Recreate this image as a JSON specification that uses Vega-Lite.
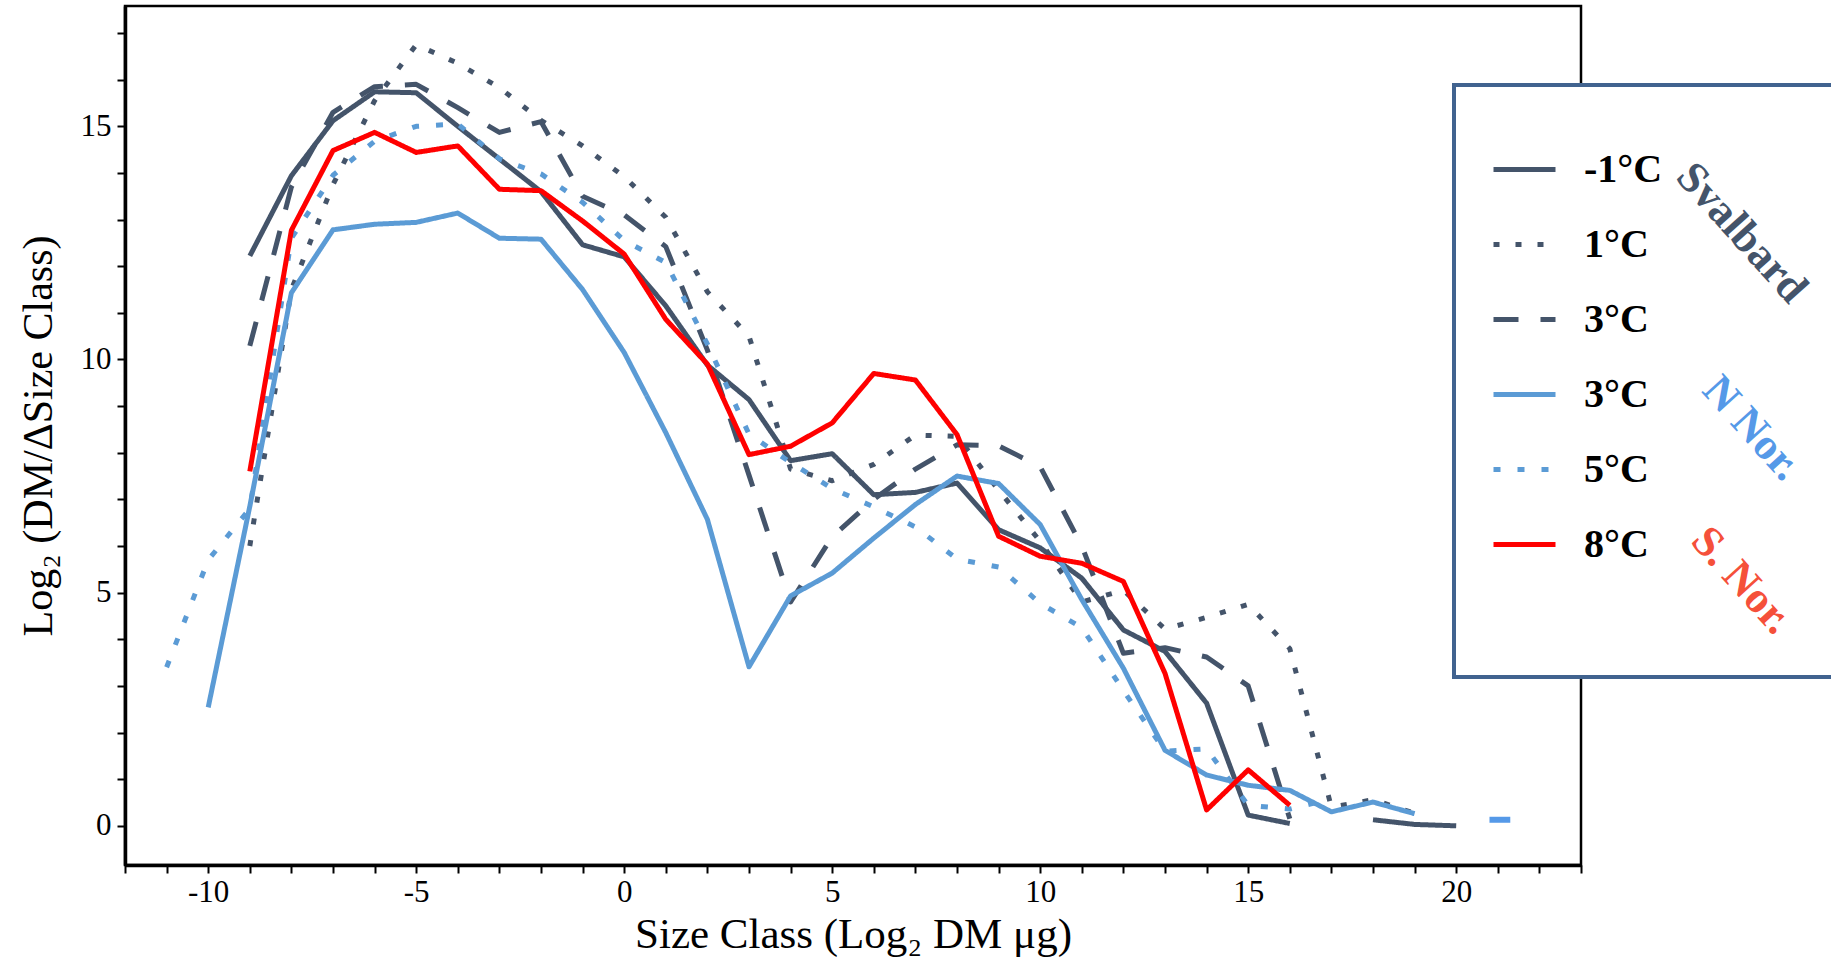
{
  "$schema": "https://vega.github.io/schema/vega-lite/v6.json",
  "width": 1456,
  "height": 859,
  "autosize": {"type": "none"},
  "padding": {"left": 125, "top": 6, "right": 250, "bottom": 98},
  "background": "white",
  "config": {
    "font": "Liberation Serif",
    "view": {"stroke": "black", "strokeWidth": 2.5},
    "legend": {
      "titleFont": "Liberation Serif",
      "titleFontSize": 10,
      "titlePadding": 4,
      "titleColor": "white",
      "titleOpacity": 0,
      "titleLimit": 2000,
      "padding": 37,
      "fillColor": "white",
      "strokeColor": "#41638F",
      "strokeWidth": 4,
      "symbolType": "stroke",
      "symbolSize": 3844,
      "symbolStrokeWidth": 5,
      "labelFont": "Liberation Serif",
      "labelFontSize": 40,
      "labelFontWeight": "bold",
      "labelColor": "black",
      "labelOffset": 26,
      "labelLimit": 0,
      "rowPadding": 21
    }
  },
  "data": {
    "values": [
      {"s": "a", "g": "a1", "x": -9, "y": 12.22}, {"s": "a", "g": "a1", "x": -8, "y": 13.94}, {"s": "a", "g": "a1", "x": -7, "y": 15.12}, {"s": "a", "g": "a1", "x": -6, "y": 15.74}, {"s": "a", "g": "a1", "x": -5, "y": 15.72}, {"s": "a", "g": "a1", "x": -4, "y": 15.0}, {"s": "a", "g": "a1", "x": -3, "y": 14.3}, {"s": "a", "g": "a1", "x": -2, "y": 13.6}, {"s": "a", "g": "a1", "x": -1, "y": 12.46}, {"s": "a", "g": "a1", "x": 0, "y": 12.2}, {"s": "a", "g": "a1", "x": 1, "y": 11.15}, {"s": "a", "g": "a1", "x": 2, "y": 9.88}, {"s": "a", "g": "a1", "x": 3, "y": 9.14}, {"s": "a", "g": "a1", "x": 4, "y": 7.83}, {"s": "a", "g": "a1", "x": 5, "y": 7.98}, {"s": "a", "g": "a1", "x": 6, "y": 7.1}, {"s": "a", "g": "a1", "x": 7, "y": 7.15}, {"s": "a", "g": "a1", "x": 8, "y": 7.35}, {"s": "a", "g": "a1", "x": 9, "y": 6.35}, {"s": "a", "g": "a1", "x": 10, "y": 5.96}, {"s": "a", "g": "a1", "x": 11, "y": 5.31}, {"s": "a", "g": "a1", "x": 12, "y": 4.2}, {"s": "a", "g": "a1", "x": 13, "y": 3.74}, {"s": "a", "g": "a1", "x": 14, "y": 2.63}, {"s": "a", "g": "a1", "x": 15, "y": 0.23}, {"s": "a", "g": "a1", "x": 16, "y": 0.05},
      {"s": "a", "g": "a2", "x": 18, "y": 0.13}, {"s": "a", "g": "a2", "x": 19, "y": 0.03}, {"s": "a", "g": "a2", "x": 20, "y": 0.0},
      {"s": "b", "g": "b", "x": -9, "y": 6.0}, {"s": "b", "g": "b", "x": -8, "y": 11.5}, {"s": "b", "g": "b", "x": -7, "y": 13.75}, {"s": "b", "g": "b", "x": -6, "y": 15.55}, {"s": "b", "g": "b", "x": -5, "y": 16.75}, {"s": "b", "g": "b", "x": -4, "y": 16.35}, {"s": "b", "g": "b", "x": -3, "y": 15.83}, {"s": "b", "g": "b", "x": -2, "y": 15.13}, {"s": "b", "g": "b", "x": -1, "y": 14.58}, {"s": "b", "g": "b", "x": 0, "y": 13.92}, {"s": "b", "g": "b", "x": 1, "y": 13.05}, {"s": "b", "g": "b", "x": 2, "y": 11.45}, {"s": "b", "g": "b", "x": 3, "y": 10.5}, {"s": "b", "g": "b", "x": 4, "y": 7.65}, {"s": "b", "g": "b", "x": 5, "y": 7.4}, {"s": "b", "g": "b", "x": 6, "y": 7.75}, {"s": "b", "g": "b", "x": 7, "y": 8.38}, {"s": "b", "g": "b", "x": 8, "y": 8.35}, {"s": "b", "g": "b", "x": 9, "y": 7.2}, {"s": "b", "g": "b", "x": 10, "y": 6.1}, {"s": "b", "g": "b", "x": 11, "y": 4.8}, {"s": "b", "g": "b", "x": 12, "y": 5.05}, {"s": "b", "g": "b", "x": 13, "y": 4.22}, {"s": "b", "g": "b", "x": 14, "y": 4.47}, {"s": "b", "g": "b", "x": 15, "y": 4.75}, {"s": "b", "g": "b", "x": 16, "y": 3.8}, {"s": "b", "g": "b", "x": 17, "y": 0.4}, {"s": "b", "g": "b", "x": 18, "y": 0.56}, {"s": "b", "g": "b", "x": 19, "y": 0.27},
      {"s": "c", "g": "c", "x": -9, "y": 10.29}, {"s": "c", "g": "c", "x": -8, "y": 13.7}, {"s": "c", "g": "c", "x": -7, "y": 15.3}, {"s": "c", "g": "c", "x": -6, "y": 15.85}, {"s": "c", "g": "c", "x": -5, "y": 15.9}, {"s": "c", "g": "c", "x": -4, "y": 15.4}, {"s": "c", "g": "c", "x": -3, "y": 14.87}, {"s": "c", "g": "c", "x": -2, "y": 15.1}, {"s": "c", "g": "c", "x": -1, "y": 13.5}, {"s": "c", "g": "c", "x": 0, "y": 13.1}, {"s": "c", "g": "c", "x": 1, "y": 12.42}, {"s": "c", "g": "c", "x": 2, "y": 10.2}, {"s": "c", "g": "c", "x": 3, "y": 7.52}, {"s": "c", "g": "c", "x": 4, "y": 4.8}, {"s": "c", "g": "c", "x": 5, "y": 6.2}, {"s": "c", "g": "c", "x": 6, "y": 7.0}, {"s": "c", "g": "c", "x": 7, "y": 7.65}, {"s": "c", "g": "c", "x": 8, "y": 8.17}, {"s": "c", "g": "c", "x": 9, "y": 8.15}, {"s": "c", "g": "c", "x": 10, "y": 7.7}, {"s": "c", "g": "c", "x": 11, "y": 6.0}, {"s": "c", "g": "c", "x": 12, "y": 3.7}, {"s": "c", "g": "c", "x": 13, "y": 3.82}, {"s": "c", "g": "c", "x": 14, "y": 3.62}, {"s": "c", "g": "c", "x": 15, "y": 3.0}, {"s": "c", "g": "c", "x": 16, "y": 0.15},
      {"s": "d", "g": "d", "x": -10, "y": 2.54}, {"s": "d", "g": "d", "x": -9, "y": 6.85}, {"s": "d", "g": "d", "x": -8, "y": 11.43}, {"s": "d", "g": "d", "x": -7, "y": 12.78}, {"s": "d", "g": "d", "x": -6, "y": 12.9}, {"s": "d", "g": "d", "x": -5, "y": 12.94}, {"s": "d", "g": "d", "x": -4, "y": 13.14}, {"s": "d", "g": "d", "x": -3, "y": 12.6}, {"s": "d", "g": "d", "x": -2, "y": 12.58}, {"s": "d", "g": "d", "x": -1, "y": 11.5}, {"s": "d", "g": "d", "x": 0, "y": 10.15}, {"s": "d", "g": "d", "x": 1, "y": 8.43}, {"s": "d", "g": "d", "x": 2, "y": 6.57}, {"s": "d", "g": "d", "x": 3, "y": 3.41}, {"s": "d", "g": "d", "x": 4, "y": 4.93}, {"s": "d", "g": "d", "x": 5, "y": 5.42}, {"s": "d", "g": "d", "x": 6, "y": 6.17}, {"s": "d", "g": "d", "x": 7, "y": 6.89}, {"s": "d", "g": "d", "x": 8, "y": 7.5}, {"s": "d", "g": "d", "x": 9, "y": 7.34}, {"s": "d", "g": "d", "x": 10, "y": 6.46}, {"s": "d", "g": "d", "x": 11, "y": 4.85}, {"s": "d", "g": "d", "x": 12, "y": 3.38}, {"s": "d", "g": "d", "x": 13, "y": 1.62}, {"s": "d", "g": "d", "x": 14, "y": 1.09}, {"s": "d", "g": "d", "x": 15, "y": 0.87}, {"s": "d", "g": "d", "x": 16, "y": 0.76}, {"s": "d", "g": "d", "x": 17, "y": 0.3}, {"s": "d", "g": "d", "x": 18, "y": 0.51}, {"s": "d", "g": "d", "x": 19, "y": 0.26},
      {"s": "e", "g": "e", "x": -11, "y": 3.4}, {"s": "e", "g": "e", "x": -10, "y": 5.7}, {"s": "e", "g": "e", "x": -9, "y": 6.8}, {"s": "e", "g": "e", "x": -8, "y": 12.6}, {"s": "e", "g": "e", "x": -7, "y": 13.95}, {"s": "e", "g": "e", "x": -6, "y": 14.68}, {"s": "e", "g": "e", "x": -5, "y": 15.0}, {"s": "e", "g": "e", "x": -4, "y": 15.05}, {"s": "e", "g": "e", "x": -3, "y": 14.3}, {"s": "e", "g": "e", "x": -2, "y": 13.98}, {"s": "e", "g": "e", "x": -1, "y": 13.37}, {"s": "e", "g": "e", "x": 0, "y": 12.55}, {"s": "e", "g": "e", "x": 1, "y": 12.08}, {"s": "e", "g": "e", "x": 2, "y": 10.33}, {"s": "e", "g": "e", "x": 3, "y": 8.4}, {"s": "e", "g": "e", "x": 4, "y": 7.79}, {"s": "e", "g": "e", "x": 5, "y": 7.23}, {"s": "e", "g": "e", "x": 6, "y": 6.84}, {"s": "e", "g": "e", "x": 7, "y": 6.41}, {"s": "e", "g": "e", "x": 8, "y": 5.72}, {"s": "e", "g": "e", "x": 9, "y": 5.55}, {"s": "e", "g": "e", "x": 10, "y": 4.77}, {"s": "e", "g": "e", "x": 11, "y": 4.25}, {"s": "e", "g": "e", "x": 12, "y": 2.9}, {"s": "e", "g": "e", "x": 13, "y": 1.6}, {"s": "e", "g": "e", "x": 14, "y": 1.65}, {"s": "e", "g": "e", "x": 15, "y": 0.44}, {"s": "e", "g": "e", "x": 16, "y": 0.36}, {"s": "e", "g": "e", "x": 17, "y": 0.58},
      {"s": "f", "g": "f", "x": -9, "y": 7.6}, {"s": "f", "g": "f", "x": -8, "y": 12.77}, {"s": "f", "g": "f", "x": -7, "y": 14.48}, {"s": "f", "g": "f", "x": -6, "y": 14.87}, {"s": "f", "g": "f", "x": -5, "y": 14.44}, {"s": "f", "g": "f", "x": -4, "y": 14.58}, {"s": "f", "g": "f", "x": -3, "y": 13.65}, {"s": "f", "g": "f", "x": -2, "y": 13.62}, {"s": "f", "g": "f", "x": -1, "y": 12.97}, {"s": "f", "g": "f", "x": 0, "y": 12.26}, {"s": "f", "g": "f", "x": 1, "y": 10.86}, {"s": "f", "g": "f", "x": 2, "y": 9.9}, {"s": "f", "g": "f", "x": 3, "y": 7.96}, {"s": "f", "g": "f", "x": 4, "y": 8.14}, {"s": "f", "g": "f", "x": 5, "y": 8.64}, {"s": "f", "g": "f", "x": 6, "y": 9.7}, {"s": "f", "g": "f", "x": 7, "y": 9.56}, {"s": "f", "g": "f", "x": 8, "y": 8.39}, {"s": "f", "g": "f", "x": 9, "y": 6.21}, {"s": "f", "g": "f", "x": 10, "y": 5.78}, {"s": "f", "g": "f", "x": 11, "y": 5.63}, {"s": "f", "g": "f", "x": 12, "y": 5.24}, {"s": "f", "g": "f", "x": 13, "y": 3.27}, {"s": "f", "g": "f", "x": 14, "y": 0.34}, {"s": "f", "g": "f", "x": 15, "y": 1.2}, {"s": "f", "g": "f", "x": 16, "y": 0.44},
      {"s": "t", "g": "t", "x": 20.8, "y": 0.13}, {"s": "t", "g": "t", "x": 21.3, "y": 0.13}
    ]
  },
  "layer": [
    {
      "transform": [{"filter": "datum.s !== 't'"}],
      "mark": {"type": "line", "strokeWidth": 5, "strokeJoin": "round", "clip": true},
      "encoding": {
        "x": {
          "field": "x", "type": "quantitative",
          "scale": {"domain": [-12, 23], "nice": false, "zero": false},
          "axis": {
            "values": [-12, -11, -10, -9, -8, -7, -6, -5, -4, -3, -2, -1, 0, 1, 2, 3, 4, 5, 6, 7, 8, 9, 10, 11, 12, 13, 14, 15, 16, 17, 18, 19, 20, 21, 22, 23],
            "labelExpr": "datum.value % 5 === 0 ? toString(datum.value) : ''",
            "title": "Size Class (Log₂ DM μg)",
            "titleFont": "Liberation Serif", "titleFontSize": 43, "titleFontWeight": "normal", "titleColor": "black", "titlePadding": 6,
            "labelFont": "Liberation Serif", "labelFontSize": 31, "labelColor": "black", "labelPadding": 4,
            "labelFlush": false, "labelOverlap": false,
            "tickSize": 8, "tickWidth": 2, "tickColor": "black",
            "domainColor": "black", "domainWidth": 3.5, "grid": false
          }
        },
        "y": {
          "field": "y", "type": "quantitative",
          "scale": {"domain": [-0.84, 17.58], "nice": false, "zero": false},
          "axis": {
            "values": [0, 1, 2, 3, 4, 5, 6, 7, 8, 9, 10, 11, 12, 13, 14, 15, 16, 17],
            "labelExpr": "datum.value % 5 === 0 ? toString(datum.value) : ''",
            "title": "Log₂ (DM/ΔSize Class)",
            "titleFont": "Liberation Serif", "titleFontSize": 42, "titleFontWeight": "normal", "titleColor": "black", "titlePadding": 20,
            "labelFont": "Liberation Serif", "labelFontSize": 31, "labelColor": "black", "labelPadding": 6,
            "labelFlush": false, "labelOverlap": false,
            "tickSize": 8, "tickWidth": 2, "tickColor": "black",
            "domainColor": "black", "domainWidth": 3.5, "grid": false
          }
        },
        "color": {
          "field": "s", "type": "nominal",
          "scale": {"domain": ["a", "b", "c", "d", "e", "f", "z"], "range": ["#44546A", "#44546A", "#44546A", "#5B9BD5", "#5B9BD5", "#FF0000", "rgba(255,255,255,0)"]},
          "legend": {
            "orient": "none", "legendX": 1329, "legendY": 79,
            "title": "MMMMMMMMMMMMMMMMMMMMMMMMMMMMMMMMMMMM",
            "labelExpr": "datum.value == 'a' ? '-1°C' : datum.value == 'b' ? '1°C' : (datum.value == 'c' || datum.value == 'd') ? '3°C' : datum.value == 'e' ? '5°C' : datum.value == 'f' ? '8°C' : ''"
          }
        },
        "strokeDash": {
          "field": "s", "type": "nominal",
          "scale": {"domain": ["a", "b", "c", "d", "e", "f", "z"], "range": [[1, 0], [6, 16], [25, 22], [1, 0], [7, 17], [1, 0], [1, 0]]},
          "legend": {
            "orient": "none", "legendX": 1329, "legendY": 79,
            "title": "MMMMMMMMMMMMMMMMMMMMMMMMMMMMMMMMMMMM",
            "labelExpr": "datum.value == 'a' ? '-1°C' : datum.value == 'b' ? '1°C' : (datum.value == 'c' || datum.value == 'd') ? '3°C' : datum.value == 'e' ? '5°C' : datum.value == 'f' ? '8°C' : ''"
          }
        },
        "detail": {"field": "g", "type": "nominal"},
        "order": {"field": "x", "type": "quantitative"}
      }
    },
    {
      "transform": [{"filter": "datum.s === 't'"}],
      "mark": {"type": "line", "color": "#5599E8", "strokeWidth": 6, "clip": false},
      "encoding": {
        "x": {"field": "x", "type": "quantitative"},
        "y": {
          "field": "y", "type": "quantitative",
          "axis": {
            "orient": "right",
            "values": [5.27, 8.53, 12.72],
            "domain": false, "ticks": false, "grid": false, "title": null,
            "labelAngle": 48, "labelAlign": "center", "labelBaseline": "middle",
            "labelPadding": {"condition": {"test": "datum.value > 7 && datum.value < 10", "value": 170}, "value": 160},
            "labelFont": "Liberation Serif", "labelFontSize": 44, "labelFontWeight": "bold",
            "labelExpr": "datum.value > 10 ? 'Svalbard' : datum.value > 7 ? 'N Nor.' : 'S. Nor.'",
            "labelColor": {"condition": [{"test": "datum.value > 10", "value": "#44546A"}, {"test": "datum.value > 7", "value": "#5599E8"}], "value": "#F5503A"},
            "labelOverlap": false, "labelBound": false, "labelFlush": false,
            "zindex": 1
          }
        }
      }
    }
  ],
  "resolve": {"axis": {"y": "independent"}}
}
